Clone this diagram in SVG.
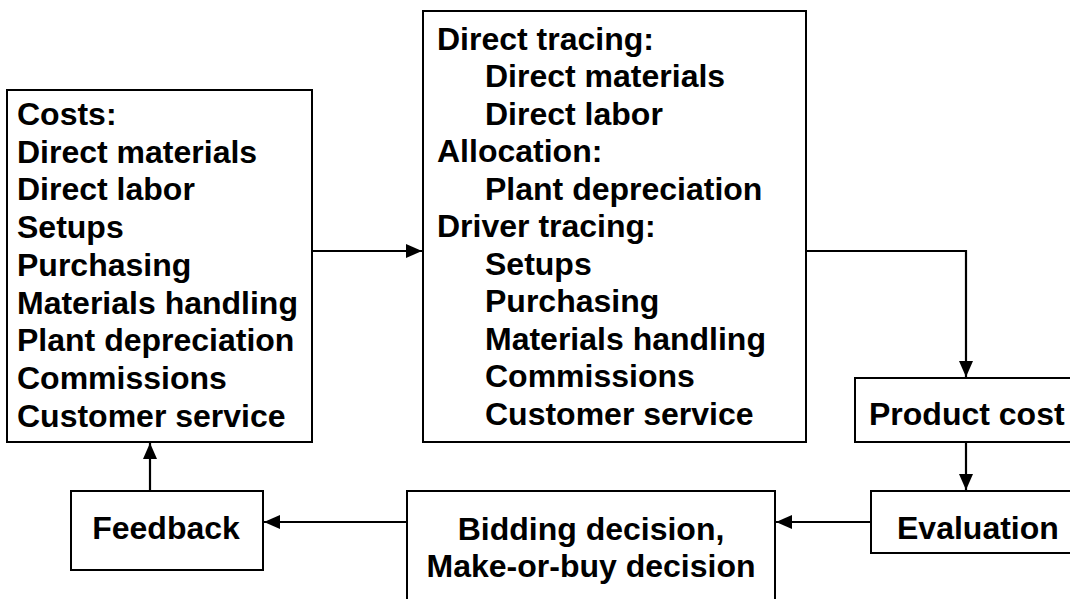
<svg xmlns="http://www.w3.org/2000/svg" width="1070" height="599" viewBox="0 0 1070 599">
<style>
.box{fill:#fff;stroke:#000;stroke-width:2}
.t{font-family:"Liberation Sans",Arial,sans-serif;font-weight:bold;font-size:32px;fill:#000}
.c{text-anchor:middle}
.ln{fill:none;stroke:#000;stroke-width:2.2}
</style>
<defs>
<marker id="ah" markerWidth="16" markerHeight="14" refX="16" refY="7" orient="auto" markerUnits="userSpaceOnUse">
<path d="M0,0 L16,7 L0,14 Z" fill="#000"/>
</marker>
</defs>
<rect width="1070" height="599" fill="#fff"/>
<g id="connectors">
<line class="ln" x1="312" y1="251" x2="422" y2="251" marker-end="url(#ah)"/>
<polyline class="ln" points="806,251 966,251 966,377" marker-end="url(#ah)"/>
<line class="ln" x1="966" y1="442" x2="966" y2="490" marker-end="url(#ah)"/>
<line class="ln" x1="871" y1="522" x2="776" y2="522" marker-end="url(#ah)"/>
<line class="ln" x1="407" y1="522" x2="264" y2="522" marker-end="url(#ah)"/>
<line class="ln" x1="150" y1="491" x2="150" y2="443" marker-end="url(#ah)"/>
</g>
<g id="costs">
<rect class="box" x="7" y="90" width="305" height="352"/>
<text class="t" x="17" y="125">Costs:</text>
<text class="t" x="17" y="163">Direct materials</text>
<text class="t" x="17" y="200">Direct labor</text>
<text class="t" x="17" y="238">Setups</text>
<text class="t" x="17" y="276">Purchasing</text>
<text class="t" x="17" y="314">Materials handling</text>
<text class="t" x="17" y="351">Plant depreciation</text>
<text class="t" x="17" y="389">Commissions</text>
<text class="t" x="17" y="427">Customer service</text>
</g>
<g id="tracing">
<rect class="box" x="423" y="11" width="383" height="431"/>
<text class="t" x="437" y="50">Direct tracing:</text>
<text class="t" x="485" y="87">Direct materials</text>
<text class="t" x="485" y="125">Direct labor</text>
<text class="t" x="437" y="162">Allocation:</text>
<text class="t" x="485" y="200">Plant depreciation</text>
<text class="t" x="437" y="237">Driver tracing:</text>
<text class="t" x="485" y="275">Setups</text>
<text class="t" x="485" y="312">Purchasing</text>
<text class="t" x="485" y="350">Materials handling</text>
<text class="t" x="485" y="387">Commissions</text>
<text class="t" x="485" y="425">Customer service</text>
</g>
<g id="product-cost">
<rect class="box" x="855" y="378" width="230" height="64"/>
<text class="t" x="869" y="425">Product cost</text>
</g>
<g id="evaluation">
<rect class="box" x="871" y="491" width="214" height="62"/>
<text class="t" x="897" y="539">Evaluation</text>
</g>
<g id="decision">
<rect class="box" x="407" y="491" width="368" height="110"/>
<text class="t c" x="591" y="540">Bidding decision,</text>
<text class="t c" x="591" y="577">Make-or-buy decision</text>
</g>
<g id="feedback">
<rect class="box" x="71" y="491" width="192" height="79"/>
<text class="t c" x="166" y="539">Feedback</text>
</g>
</svg>
